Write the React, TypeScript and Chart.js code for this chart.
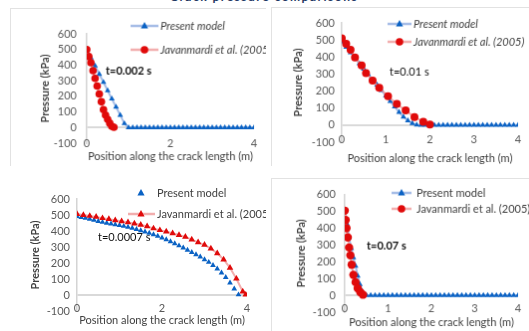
import React, { useEffect, useRef } from 'react';
import { Chart, registerables } from 'chart.js';
Chart.register(...registerables);

const FONT = 'Lato, "Liberation Sans", sans-serif';
const FS = 11;

const BLUE = '#0a62c4';
const RED = '#e00a0a';
const BLUE_LINE = 'rgba(150,178,226,0.85)';
const RED_LINE = 'rgba(240,160,160,0.85)';

const X_AXIS_TITLE = 'Position along the crack length (m)';
const Y_AXIS_TITLE = 'Pressure (kPa)';
const LABEL_MODEL = 'Present model';
const LABEL_REF = 'Javanmardi et al. (2005)';

// shared positions along crack (m)
const xStep01 = [0, 0.1, 0.2, 0.3, 0.4, 0.5, 0.6, 0.7, 0.8, 0.9, 1, 1.1, 1.2, 1.3, 1.4, 1.5, 1.6, 1.7, 1.8, 1.9, 2, 2.1, 2.2, 2.3, 2.4, 2.5, 2.6, 2.7, 2.8, 2.9, 3, 3.1, 3.2, 3.3, 3.4, 3.5, 3.6, 3.7, 3.8, 3.9, 4];

// Panel 1 (t = 0.002 s)
const p1Blue = [500, 447, 395, 342, 290, 237, 184, 132, 79, 26, 0, 0, 0, 0, 0, 0, 0, 0, 0, 0, 0, 0, 0, 0, 0, 0, 0, 0, 0, 0, 0, 0, 0, 0, 0, 0, 0, 0, 0, 0, 0];
const p1RedX = [0, 0.05, 0.1, 0.15, 0.2, 0.25, 0.3, 0.35, 0.4, 0.45, 0.5, 0.55, 0.6, 0.65];
const p1Red = [500, 455, 415, 365, 315, 266, 215, 165, 115, 80, 52, 28, 8, 2];

// Panel 2 (t = 0.01 s)
const p2Blue = [490, 458, 426, 394, 362, 330, 298, 266, 236, 204, 172, 140, 108, 76, 48, 27, 10, 2, 0, 0, 0, 0, 0, 0, 0, 0, 0, 0, 0, 0, 0, 0, 0, 0, 0, 0, 0, 0, 0, 0, 0];
const p2RedX = [0, 0.1, 0.2, 0.3, 0.45, 0.55, 0.7, 0.85, 1.05, 1.25, 1.45, 1.65, 1.85, 2.0];
const p2Red = [510, 478, 442, 398, 350, 306, 262, 220, 170, 125, 86, 48, 19, 3];

// Panel 3 (t = 0.0007 s)
const p3BlueX = [0, 0.1, 0.2, 0.3, 0.4, 0.5, 0.6, 0.7, 0.8, 0.9, 1, 1.1, 1.2, 1.3, 1.4, 1.5, 1.6, 1.7, 1.8, 1.9, 2, 2.1, 2.2, 2.3, 2.4, 2.5, 2.6, 2.7, 2.8, 2.9, 3, 3.1, 3.2, 3.3, 3.4, 3.5, 3.6, 3.7, 3.8];
const p3Blue = [491, 486, 480, 474, 468, 461, 455, 450, 445, 440, 435, 430, 424, 418, 411, 403, 395, 387, 378, 368, 357, 346, 334, 321, 308, 295, 281, 267, 253, 238, 222, 205, 185, 163, 138, 110, 76, 38, 2];
const p3RedX = [0, 0.15, 0.3, 0.45, 0.6, 0.75, 0.9, 1.05, 1.2, 1.35, 1.5, 1.65, 1.8, 1.95, 2.1, 2.25, 2.4, 2.55, 2.7, 2.85, 3, 3.15, 3.3, 3.45, 3.6, 3.75, 3.9, 3.97];
const p3Red = [506, 500, 494, 488, 480, 474, 467, 461, 454, 447, 439, 429, 416, 405, 396, 386, 375, 363, 346, 329, 313, 290, 261, 222, 170, 102, 22, 2];

// Panel 4 (t = 0.07 s)
const p4BlueX = [0, 0.05, 0.1, 0.15, 0.2, 0.25, 0.3, 0.35, 0.4, 0.45, 0.5, 0.6, 0.7, 0.8, 0.9, 1, 1.1, 1.2, 1.3, 1.4, 1.5, 1.6, 1.7, 1.8, 1.9, 2, 2.1, 2.2, 2.3, 2.4, 2.5, 2.6, 2.7, 2.8, 2.9, 3, 3.1, 3.2, 3.3, 3.4, 3.5, 3.6, 3.7, 3.8, 3.9, 4];
const p4Blue = [500, 425, 345, 280, 225, 175, 115, 65, 25, 3, 0, 0, 0, 0, 0, 0, 0, 0, 0, 0, 0, 0, 0, 0, 0, 0, 0, 0, 0, 0, 0, 0, 0, 0, 0, 0, 0, 0, 0, 0, 0, 0, 0, 0, 0, 0];
const p4RedX = [0, 0.02, 0.04, 0.07, 0.1, 0.13, 0.16, 0.2, 0.25, 0.3, 0.36, 0.42];
const p4Red = [504, 448, 400, 345, 285, 238, 182, 122, 78, 42, 18, 4];

const yTicksRange = { min: -100, max: 600, step: 100 };

function pts(xs: number[], ys: number[]) {
  return xs.map((x, i) => ({ x, y: ys[i] }));
}

type LegendItem = {
  label: string; color: string; lineColor: string; style: 'triangle' | 'circle';
  line: boolean; x1: number; x2: number; mx: number; y: number; tx: number;
};

type PanelCfg = {
  cx: number; cy: number; cw: number; ch: number;
  L: number; R: number; T: number; B: number;
  xStep: number; yTitleCenter: number; yTickPad: number; xTitleCenter: number; xLabelDy: number;
  datasets: any[]; legend: LegendItem[]; italic: boolean;
  note: { text: string; x: number; y: number; bold: boolean };
  border: boolean;
};

function marker(ctx: CanvasRenderingContext2D, style: string, x: number, y: number, r: number, color: string) {
  ctx.fillStyle = color;
  ctx.beginPath();
  if (style === 'triangle') {
    ctx.moveTo(x, y - r * 1.1);
    ctx.lineTo(x + r, y + r * 0.7);
    ctx.lineTo(x - r, y + r * 0.7);
    ctx.closePath();
  } else {
    ctx.arc(x, y, r, 0, Math.PI * 2);
  }
  ctx.fill();
}

function blueSet(data: { x: number; y: number }[], line: boolean) {
  return {
    data, showLine: line, borderColor: BLUE_LINE, borderWidth: 2,
    pointStyle: 'triangle', pointRadius: 3.3, pointBackgroundColor: BLUE, pointBorderColor: BLUE, pointBorderWidth: 0,
  };
}
function redSet(data: { x: number; y: number }[], style: string, r: number) {
  return {
    data, showLine: true, borderColor: RED_LINE, borderWidth: 2,
    pointStyle: style, pointRadius: r, pointBackgroundColor: RED, pointBorderColor: RED, pointBorderWidth: 0,
  };
}

const panels: PanelCfg[] = [
  {
    cx: 10, cy: 8, cw: 256, ch: 158, L: 86, R: 254, T: 33, B: 143,
    xStep: 2, yTitleCenter: 44, yTickPad: 10, xTitleCenter: 156, xLabelDy: 0, italic: true, border: true,
    datasets: [redSet(pts(p1RedX, p1Red), 'circle', 3.8), blueSet(pts(xStep01, p1Blue), true)],
    legend: [
      { label: LABEL_MODEL, color: BLUE, lineColor: BLUE_LINE, style: 'triangle', line: true, x1: 130, x2: 158, mx: 144, y: 25, tx: 160 },
      { label: LABEL_REF, color: RED, lineColor: RED_LINE, style: 'circle', line: true, x1: 130, x2: 158, mx: 144, y: 49, tx: 160 },
    ],
    note: { text: 't=0.002 s', x: 105, y: 70, bold: true },
  },
  {
    cx: 271, cy: 7, cw: 258, ch: 159, L: 341, R: 518, T: 22, B: 142,
    xStep: 1, yTitleCenter: 297, yTickPad: 7, xTitleCenter: 158, xLabelDy: -3, italic: true, border: true,
    datasets: [redSet(pts(p2RedX, p2Red), 'circle', 4), blueSet(pts(xStep01, p2Blue), true)],
    legend: [
      { label: LABEL_MODEL, color: BLUE, lineColor: BLUE_LINE, style: 'triangle', line: true, x1: 387, x2: 411, mx: 399, y: 23, tx: 413 },
      { label: LABEL_REF, color: RED, lineColor: RED_LINE, style: 'circle', line: true, x1: 387, x2: 411, mx: 399, y: 41, tx: 413 },
    ],
    note: { text: 't=0.01 s', x: 389, y: 71, bold: false },
  },
  {
    cx: 10, cy: 178, cw: 256, ch: 153, L: 77, R: 247, T: 199, B: 311,
    xStep: 2, yTitleCenter: 35, yTickPad: 7, xTitleCenter: 320, xLabelDy: -3, italic: false, border: false,
    datasets: [redSet(pts(p3RedX, p3Red), 'triangle', 3.8), blueSet(pts(p3BlueX, p3Blue), false)],
    legend: [
      { label: LABEL_MODEL, color: BLUE, lineColor: BLUE_LINE, style: 'triangle', line: false, x1: 130, x2: 152, mx: 141, y: 193, tx: 157 },
      { label: LABEL_REF, color: RED, lineColor: RED_LINE, style: 'triangle', line: true, x1: 128, x2: 155, mx: 141, y: 214, tx: 157 },
    ],
    note: { text: 't=0.0007 s', x: 98, y: 237, bold: false },
  },
  {
    cx: 271, cy: 178, cw: 258, ch: 153, L: 344, R: 518, T: 193, B: 312,
    xStep: 1, yTitleCenter: 300, yTickPad: 9, xTitleCenter: 322, xLabelDy: -4, italic: false, border: true,
    datasets: [redSet(pts(p4RedX, p4Red), 'circle', 4.2), blueSet(pts(p4BlueX, p4Blue), true)],
    legend: [
      { label: LABEL_MODEL, color: BLUE, lineColor: BLUE_LINE, style: 'triangle', line: true, x1: 391, x2: 411, mx: 401, y: 192, tx: 416 },
      { label: LABEL_REF, color: RED, lineColor: RED_LINE, style: 'circle', line: true, x1: 391, x2: 411, mx: 401, y: 208, tx: 416 },
    ],
    note: { text: 't=0.07 s', x: 366, y: 245, bold: true },
  },
];

function Panel({ cfg }: { cfg: PanelCfg }) {
  const ref = useRef<HTMLCanvasElement>(null);
  useEffect(() => {
    const YW = cfg.L - cfg.cx;
    const XH = cfg.cy + cfg.ch - cfg.B;
    const overlay = {
      id: 'overlay',
      afterDraw(chart: any) {
        const ctx: CanvasRenderingContext2D = chart.ctx;
        ctx.save();
        // x tick labels, placed on the library's x scale
        const xs = chart.scales.x;
        ctx.fillStyle = '#595959';
        ctx.font = `${FS}px ${FONT}`;
        ctx.textAlign = 'center';
        ctx.textBaseline = 'middle';
        for (const t of xs.ticks) {
          ctx.fillText(String(t.value), xs.getPixelForValue(t.value), chart.chartArea.bottom + cfg.xLabelDy);
        }
        for (const it of cfg.legend) {
          const y = it.y - cfg.cy;
          if (it.line) {
            ctx.strokeStyle = it.lineColor;
            ctx.lineWidth = 2.5;
            ctx.beginPath();
            ctx.moveTo(it.x1 - cfg.cx, y);
            ctx.lineTo(it.x2 - cfg.cx, y);
            ctx.stroke();
          }
          marker(ctx, it.style, it.mx - cfg.cx, y, it.style === 'circle' ? 3.8 : 3.6, it.color);
          ctx.fillStyle = '#404040';
          ctx.font = `${cfg.italic ? 'italic ' : ''}${FS}px ${FONT}`;
          ctx.textBaseline = 'middle';
          ctx.textAlign = 'left';
          ctx.fillText(it.label, it.tx - cfg.cx, y);
        }
        ctx.fillStyle = '#111';
        ctx.font = `${cfg.note.bold ? 'bold ' : ''}${FS}px ${FONT}`;
        ctx.textBaseline = 'middle';
        ctx.textAlign = 'left';
        ctx.fillText(cfg.note.text, cfg.note.x - cfg.cx, cfg.note.y - cfg.cy);
        ctx.restore();
      },
    };
    const chart = new Chart(ref.current as HTMLCanvasElement, {
      type: 'scatter',
      data: { datasets: cfg.datasets },
      options: {
        animation: false,
        responsive: false,
        maintainAspectRatio: false,
        layout: { padding: { left: 0, top: cfg.T - cfg.cy, right: cfg.cx + cfg.cw - cfg.R, bottom: 0 } },
        plugins: { legend: { display: false }, tooltip: { enabled: false } },
        scales: {
          x: {
            type: 'linear', min: 0, max: 4,
            ticks: { stepSize: cfg.xStep, display: false },
            grid: { display: false, drawTicks: false },
            border: { display: false },
            title: {
              display: true, text: X_AXIS_TITLE, color: '#404040', font: { family: FONT, size: FS, lineHeight: 1.2 },
              padding: { top: 0, bottom: cfg.cy + cfg.ch - cfg.xTitleCenter - FS * 0.6 },
            },
            afterFit: (s: any) => { s.height = XH; },
          },
          y: {
            type: 'linear', min: yTicksRange.min, max: yTicksRange.max,
            ticks: {
              stepSize: yTicksRange.step, autoSkip: false, padding: cfg.yTickPad, color: '#595959',
              font: { family: FONT, size: FS },
            },
            grid: {
              drawTicks: false,
              color: (c: any) => (c.tick && c.tick.value === 0 ? '#d9d9d9' : 'rgba(0,0,0,0)'),
              lineWidth: 2,
            },
            border: { display: true, color: '#d4d4d4', width: 1.5 },
            title: {
              display: true, text: Y_AXIS_TITLE, color: '#404040', font: { family: FONT, size: FS, weight: 'bold', lineHeight: 1.2 },
              padding: { top: cfg.yTitleCenter - cfg.cx - FS * 0.6, bottom: 0 },
            },
            afterFit: (s: any) => { s.width = YW; },
          },
        },
      } as any,
      plugins: [overlay],
    });
    return () => chart.destroy();
  }, []);
  return (
    <canvas
      ref={ref}
      width={cfg.cw}
      height={cfg.ch}
      style={{
        position: 'absolute', left: cfg.cx, top: cfg.cy, width: cfg.cw, height: cfg.ch,
        boxSizing: 'border-box',
        borderLeft: cfg.border ? '1px solid #e2e2e2' : 'none',
        borderTop: cfg.border ? '1px solid #e2e2e2' : 'none',
      }}
    />
  );
}

export default function App() {
  return (
    <div style={{ position: 'absolute', left: 0, top: 0, width: 529, height: 331, background: '#fff', overflow: 'hidden' }}>
      <div
        style={{
          position: 'absolute', left: 170, top: -9, width: 210, fontFamily: FONT, fontSize: 12,
          fontWeight: 'bold', color: '#1f3864', letterSpacing: 1.5, whiteSpace: 'nowrap', lineHeight: '12px',
        }}
      >
        Crack pressure comparisons
      </div>
      {panels.map((p, i) => (
        <Panel key={i} cfg={p} />
      ))}
    </div>
  );
}
